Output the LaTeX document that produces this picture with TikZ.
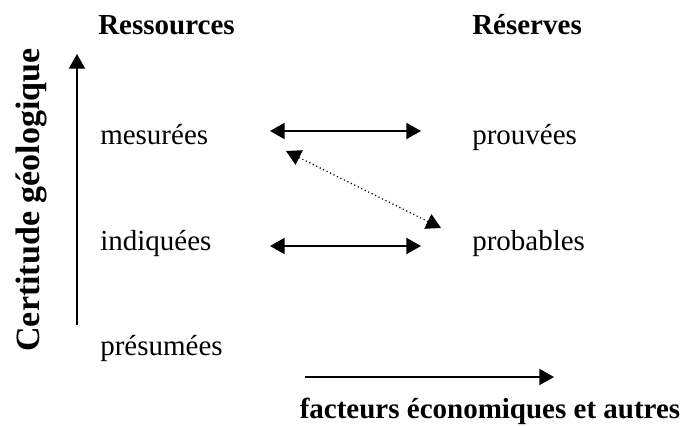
\documentclass[tikz,border=0pt]{standalone}
\usepackage{fontspec}
\setmainfont{Liberation Serif}
\usetikzlibrary{arrows.meta}
\begin{document}
\begin{tikzpicture}[x=0.75pt,y=-0.75pt,
  every node/.style={font=\fontsize{21.75}{26}\selectfont,inner sep=0pt},
  titre/.style={font=\fontsize{21.75}{26}\selectfont\bfseries},
  fleche/.style={line width=1.5pt,-{Triangle[length=11pt,width=12pt]}},
  double/.style={line width=1.5pt,{Triangle[length=11pt,width=12pt]}-{Triangle[length=11pt,width=12pt]}},
  pointille/.style={line width=0.9pt,dotted,{Triangle[length=11pt,width=12pt]}-{Triangle[length=11pt,width=12pt]}}]
\useasboundingbox (0,0) rectangle (680,427);

% titres
\node[titre,anchor=base west] (ress) at (98,35) {Ressources};
\node[titre,anchor=base west] (res) at (472,35) {Réserves};

% classes
\node[anchor=base west] (mes) at (100,145) {mesurées};
\node[anchor=base west] (ind) at (100,250) {indiquées};
\node[anchor=base west] (pre) at (100,355) {présumées};
\node[anchor=base west] (prou) at (472,145) {prouvées};
\node[anchor=base west] (prob) at (472,250) {probables};

% axes
\coordinate (ybas) at (77,325);
\coordinate (yhaut) at (77,54);
\draw[fleche] (ybas) -- (yhaut);
\node[titre,font=\fontsize{25.5}{30}\selectfont\bfseries,rotate=90,anchor=base] (cert) at (39,200) {Certitude géologique};

\coordinate (xgauche) at (305,377);
\coordinate (xdroite) at (554,377);
\draw[fleche] (xgauche) -- (xdroite);
\node[titre,anchor=base] (fact) at (490,418) {facteurs économiques et autres};

% correspondances
\coordinate (m1) at (270,131);
\coordinate (p1) at (421,131);
\coordinate (i1) at (270,246);
\coordinate (b1) at (421,246);
\coordinate (d1) at (286,151);
\coordinate (d2) at (441,228);
\draw[double] (m1) -- (p1);
\draw[double] (i1) -- (b1);
\draw[pointille] (d1) -- (d2);
\end{tikzpicture}
\end{document}
